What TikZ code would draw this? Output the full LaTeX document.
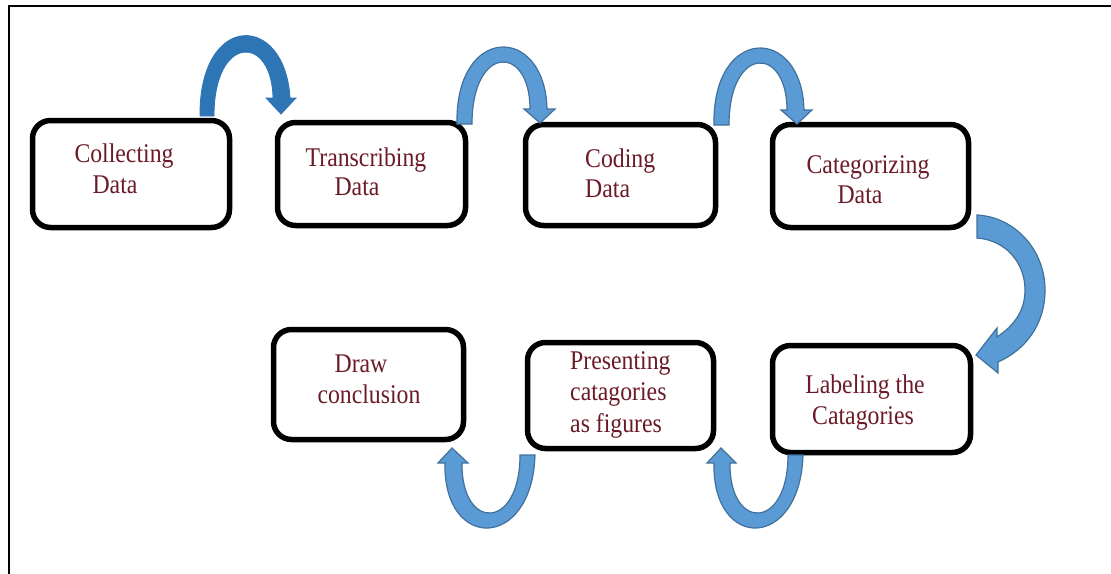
\documentclass[tikz,border=0pt]{standalone}
\usepackage{fontspec}
\setmainfont{Liberation Serif}[FakeStretch=0.88]
\definecolor{arrowdark}{HTML}{2E75B6}
\definecolor{arrowlight}{HTML}{5B9BD5}
\definecolor{arrowedge}{HTML}{41719C}
\definecolor{txtred}{HTML}{6B1B28}
\begin{document}
\begin{tikzpicture}[x=1pt,y=-1pt,
  box/.style={draw=black, line width=5.5pt, rounded corners=18pt, inner sep=0pt},
  lbl/.style={text=txtred, font=\fontsize{27}{31}\selectfont, inner sep=0pt},
  arrA/.style={fill=arrowdark, draw=arrowdark, line width=0.8pt, line join=miter},
  arrB/.style={fill=arrowlight, draw=arrowedge, line width=1.2pt, line join=miter}]
\useasboundingbox (0,0) rectangle (1111,573);
\fill[white] (0,0) rectangle (1111,573);
% frame
\draw[line width=2pt] (9,580) -- (9,6) -- (1120,6);

% boxes
\node[box, minimum width=197pt, minimum height=107pt] (b1) at (131,174) {};
\node[box, minimum width=188pt, minimum height=103pt] (b2) at (371.5,174) {};
\node[box, minimum width=190pt, minimum height=101pt] (b3) at (620.5,175) {};
\node[box, minimum width=196pt, minimum height=103pt] (b4) at (870.5,176) {};
\node[box, minimum width=190pt, minimum height=110pt] (b5) at (368.5,384.5) {};
\node[box, minimum width=186pt, minimum height=106pt] (b6) at (620.5,395.5) {};
\node[box, minimum width=198pt, minimum height=107pt] (b7) at (871.5,399) {};

% texts
\node[lbl, anchor=base] (t1a) at (124,162) {Collecting};
\node[lbl, anchor=base] (t1b) at (115,193) {Data};
\node[lbl, anchor=base] (t2a) at (366,166) {Transcribing};
\node[lbl, anchor=base] (t2b) at (357,195) {Data};
\node[lbl, anchor=base west] (t3a) at (585,167) {Coding};
\node[lbl, anchor=base west] (t3b) at (585,197) {Data};
\node[lbl, anchor=base] (t4a) at (868,173) {Categorizing};
\node[lbl, anchor=base] (t4b) at (860,203) {Data};
\node[lbl, anchor=base] (t5a) at (361,372) {Draw};
\node[lbl, anchor=base] (t5b) at (369,403) {conclusion};
\node[lbl, anchor=base west] (t6a) at (570,369) {Presenting};
\node[lbl, anchor=base west] (t6b) at (570,400) {catagories};
\node[lbl, anchor=base west] (t6c) at (570,432) {as figures};
\node[lbl, anchor=base] (t7a) at (865,393) {Labeling the};
\node[lbl, anchor=base] (t7b) at (863,424) {Catagories};

% arrow 1: Collecting -> Transcribing
\draw[arrA] (200,116) .. controls (199,12) and (285,12) .. (290,98)
  -- (296,98) -- (281,114) -- (266,98) -- (273,98)
  .. controls (272,34) and (214,34) .. (214,116) -- cycle;
% arrow 2: Transcribing -> Coding
\draw[arrB] (457,124) .. controls (455,24) and (545,24) .. (547,109)
  -- (555,109) -- (540,123) -- (524,109) -- (530,109)
  .. controls (530,44) and (472,44) .. (472,124) -- cycle;
% arrow 3: Coding -> Categorizing
\begin{scope}[shift={(257,1)}]
\draw[arrB] (457,124) .. controls (455,24) and (545,24) .. (547,109)
  -- (555,109) -- (540,123) -- (524,109) -- (530,109)
  .. controls (530,44) and (472,44) .. (472,124) -- cycle;
\end{scope}
% arrow 4: Categorizing -> Labeling
\draw[arrB] (977,215) .. controls (1015,217) and (1045,250) .. (1045,290)
  .. controls (1045,325) and (1025,350) .. (998,362)
  -- (998,373) -- (976,355) -- (997,328) -- (997,337)
  .. controls (1015,325) and (1025,310) .. (1025,290)
  .. controls (1025,262) and (1005,240) .. (977,238) -- cycle;
% arrow 5: Labeling -> Presenting
\draw[arrB] (803,455) .. controls (800,551) and (712,551) .. (714,463)
  -- (707,463) -- (721,448) -- (736,463) -- (730,463)
  .. controls (729,531) and (788,531) .. (788,455) -- cycle;
% arrow 6: Presenting -> Draw conclusion
\draw[arrB] (535,455) .. controls (532,551) and (443,551) .. (445,463)
  -- (438,463) -- (452,448) -- (468,463) -- (462,463)
  .. controls (461,531) and (520,531) .. (520,455) -- cycle;
\end{tikzpicture}
\end{document}
